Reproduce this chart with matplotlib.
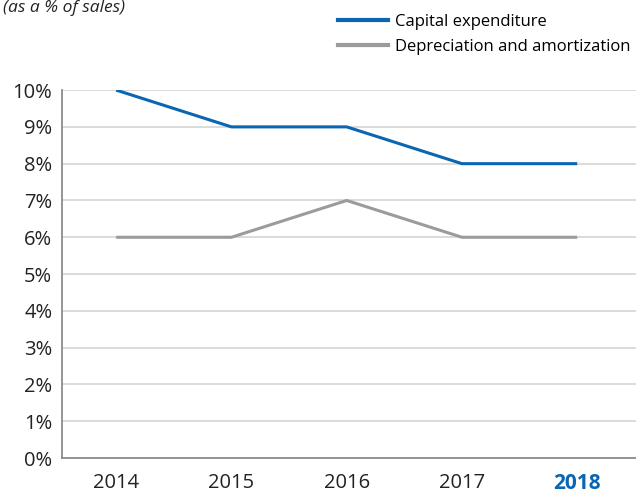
import matplotlib

matplotlib.use("Agg")
import matplotlib.pyplot as plt
from matplotlib.lines import Line2D

years = ["2014", "2015", "2016", "2017", "2018"]
capex = [10, 9, 9, 8, 8]
depreciation = [6, 6, 7, 6, 6]
yticks = [0, 1, 2, 3, 4, 5, 6, 7, 8, 9, 10]

BLUE = "#0a66b2"
GREY = "#9b9b9b"

plt.rcParams["font.family"] = ["Open Sans", "DejaVu Sans"]

fig = plt.figure(figsize=(6.36, 4.95), dpi=100)
ax = fig.add_axes([0.0975, 0.0747, 0.9025, 0.7433])

x = list(range(len(years)))
ax.plot(x, capex, color=BLUE, lw=2.2, solid_capstyle="butt")
ax.plot(x, depreciation, color=GREY, lw=2.2, solid_capstyle="butt")

ax.set_xlim(-0.47, 4.51)
ax.set_ylim(0, 10)
ax.set_yticks(yticks)
ax.set_yticklabels([f"{v}%" for v in yticks], fontsize=14.5, color="#222222")
ax.set_xticks(x)
ax.set_xticklabels(years, fontsize=14.5, color="#222222")
ax.get_xticklabels()[-1].set_color(BLUE)
ax.get_xticklabels()[-1].set_fontweight("bold")
ax.get_xticklabels()[-1].set_fontsize(15)
ax.tick_params(axis="both", length=0)
ax.tick_params(axis="x", pad=11)
ax.tick_params(axis="y", pad=7)

ax.grid(axis="y", color="#d4d4d4", lw=1.2)
ax.set_axisbelow(True)
for side in ("top", "right"):
    ax.spines[side].set_visible(False)
for side in ("left", "bottom"):
    ax.spines[side].set_color("#8c8c8c")
    ax.spines[side].set_linewidth(1.3)

handles = [
    Line2D([], [], color=BLUE, lw=3),
    Line2D([], [], color=GREY, lw=3),
]
fig.legend(handles, ["Capital expenditure", "Depreciation and amortization"],
           loc="upper left", bbox_to_anchor=(0.517, 0.99), frameon=False,
           fontsize=12, handlelength=3.0, handletextpad=0.4,
           labelspacing=0.55, borderaxespad=0.15)

fig.text(0.004, 0.999, "(as a % of sales)", style="italic",
         fontsize=12.5, color="#222222", ha="left", va="top")

fig.savefig("out.png", dpi=100)
